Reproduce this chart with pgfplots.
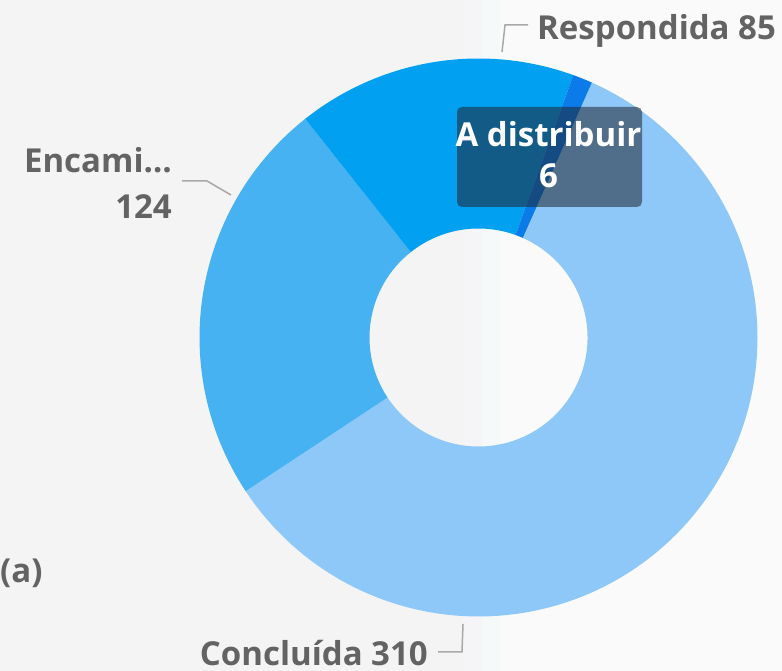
\documentclass[border=0pt]{standalone}
\usepackage{pgfplots}
\pgfplotsset{compat=1.18}
\usepackage{pgfplotstable}
\usepackage{fontspec}
\setmainfont{Open Sans}
\definecolor{cC}{HTML}{8DC8F8}
\definecolor{cE}{HTML}{47B2F2}
\definecolor{cR}{HTML}{02A0F0}
\definecolor{cD}{HTML}{0B7BEA}
\definecolor{bgL}{HTML}{F4F4F4}
\definecolor{bgM}{HTML}{F5F5F8}
\definecolor{bgN}{HTML}{F6F9FA}
\definecolor{bgR}{HTML}{FAFAFA}
\definecolor{lab}{HTML}{636363}
\definecolor{lead}{HTML}{A8A8A8}
\definecolor{boxc}{HTML}{1E2430}
\pgfplotstableread{
label value
Concluida 310
Encaminhada 124
Respondida 85
Adistribuir 6
}\slices
\pgfplotstablegetelem{0}{value}\of\slices \let\vC\pgfplotsretval
\pgfplotstablegetelem{1}{value}\of\slices \let\vE\pgfplotsretval
\pgfplotstablegetelem{2}{value}\of\slices \let\vR\pgfplotsretval
\pgfplotstablegetelem{3}{value}\of\slices \let\vD\pgfplotsretval
\pgfmathsetmacro\tot{\vC+\vE+\vR+\vD}
\pgfmathsetmacro\aA{66}
\pgfmathsetmacro\aB{\aA-360*(\vC/\tot)}
\pgfmathsetmacro\aC{\aB-360*(\vE/\tot)}
\pgfmathsetmacro\aD{\aC-360*(\vR/\tot)}
\pgfmathsetmacro\aE{\aD-360*(\vD/\tot)}
\def\cx{478.5}\def\cy{333.5}\def\Ro{279}\def\Ri{109}
\pgfmathsetmacro\xA{\cx+\Ri*cos(\aA)}\pgfmathsetmacro\yA{\cy+\Ri*sin(\aA)}
\pgfmathsetmacro\xB{\cx+\Ri*cos(\aB)}\pgfmathsetmacro\yB{\cy+\Ri*sin(\aB)}
\pgfmathsetmacro\xC{\cx+\Ri*cos(\aC)}\pgfmathsetmacro\yC{\cy+\Ri*sin(\aC)}
\pgfmathsetmacro\xD{\cx+\Ri*cos(\aD)}\pgfmathsetmacro\yD{\cy+\Ri*sin(\aD)}
\newcommand\lbl{\fontsize{33bp}{40bp}\selectfont\bfseries}
\begin{document}
\begin{tikzpicture}
\begin{axis}[
  width=782bp, height=671bp, scale only axis,
  xmin=0, xmax=782, ymin=0, ymax=671,
  hide axis, clip=false,
]
% background
\addplot[fill=bgL, draw=none] coordinates {(0,0) (463,0) (463,671) (0,671)} -- cycle;
\addplot[fill=bgM, draw=none] coordinates {(463,0) (482,0) (482,671) (463,671)} -- cycle;
\addplot[fill=bgN, draw=none] coordinates {(482,0) (500,0) (500,671) (482,671)} -- cycle;
\addplot[fill=bgR, draw=none] coordinates {(500,0) (782,0) (782,671) (500,671)} -- cycle;
% slices
\addplot[fill=cC, draw=none, domain=\aB:\aA, samples=120, variable=\t]
  ({\cx+\Ro*cos(\t)},{\cy+\Ro*sin(\t)}) -- (axis cs:\xA,\yA) arc[start angle=\aA, end angle=\aB, radius=\Ri bp] -- cycle;
\addplot[fill=cE, draw=none, domain=\aC:\aB, samples=60, variable=\t]
  ({\cx+\Ro*cos(\t)},{\cy+\Ro*sin(\t)}) -- (axis cs:\xB,\yB) arc[start angle=\aB, end angle=\aC, radius=\Ri bp] -- cycle;
\addplot[fill=cR, draw=none, domain=\aD:\aC, samples=50, variable=\t]
  ({\cx+\Ro*cos(\t)},{\cy+\Ro*sin(\t)}) -- (axis cs:\xC,\yC) arc[start angle=\aC, end angle=\aD, radius=\Ri bp] -- cycle;
\addplot[fill=cD, draw=none, domain=\aE:\aD, samples=8, variable=\t]
  ({\cx+\Ro*cos(\t)},{\cy+\Ro*sin(\t)}) -- (axis cs:\xD,\yD) arc[start angle=\aD, end angle=\aE, radius=\Ri bp] -- cycle;
% leader lines
\addplot[lead, line width=1.5bp] coordinates {(502,619) (505,646) (528,646)};
\addplot[lead, line width=1.5bp] coordinates {(231,476) (207,490) (182,490)};
\addplot[lead, line width=1.5bp] coordinates {(463,47) (462,19) (438,19)};
% tooltip box
\fill[boxc, fill opacity=0.55, rounded corners=5bp] (axis cs:457,464) rectangle (axis cs:642,564);
\node[anchor=base, inner sep=0, text=white] at (axis cs:548.5,524) {\lbl A distribuir};
\node[anchor=base, inner sep=0, text=white] at (axis cs:548.5,483) {\lbl 6};
% labels
\node[anchor=base west, inner sep=0, text=lab] at (axis cs:537,631) {\lbl Respondida 85};
\node[anchor=base east, inner sep=0, text=lab] at (axis cs:172,498) {\lbl Encami…};
\node[anchor=base east, inner sep=0, text=lab] at (axis cs:172,452) {\lbl 124};
\node[anchor=base east, inner sep=0, text=lab] at (axis cs:428,6) {\lbl Concluída 310};
\node[anchor=base west, inner sep=0, text=lab] at (axis cs:0,88) {\lbl (a)};
\end{axis}
\end{tikzpicture}
\end{document}
